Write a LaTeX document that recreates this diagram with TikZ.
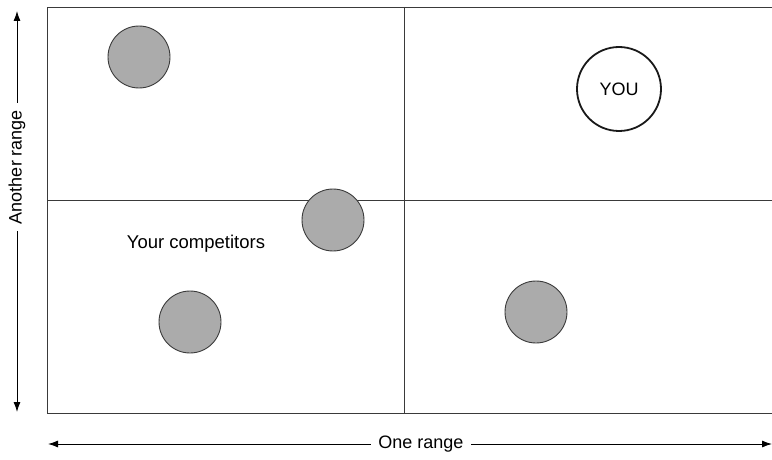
\documentclass[tikz,border=0pt]{standalone}
\usepackage{fontspec}
\setmainfont{Liberation Sans}
\usetikzlibrary{arrows.meta}
\definecolor{dotgray}{HTML}{ABABAB}
\definecolor{edgegray}{HTML}{3A3A3A}
\begin{document}
\begin{tikzpicture}[x=1pt,y=-1pt,
  gridline/.style={draw=edgegray,line width=0.9pt},
  rival/.style={circle,draw=edgegray,line width=0.9pt,fill=dotgray,minimum size=62pt,inner sep=0pt},
  me/.style={circle,draw=black!90,line width=1.8pt,fill=white,minimum size=84pt,inner sep=0pt,font=\fontsize{18}{20}\selectfont},
  axis/.style={line width=0.9pt,{Latex[length=10pt,width=7pt]}-{Latex[length=10pt,width=7pt]}},
  axislabel/.style={fill=white,inner xsep=7pt,inner ysep=0pt,minimum height=14pt,font=\fontsize{18}{20}\selectfont},
  plain/.style={font=\fontsize{18.5}{20}\selectfont,inner sep=0pt}]
\useasboundingbox (0,0) rectangle (772,460);
% frame and quadrants
\coordinate (tl) at (47,7);
\coordinate (br) at (774,413);
\draw[gridline] (tl) rectangle (br);
\coordinate (ml) at (47,200);
\coordinate (mr) at (774,200);
\coordinate (mt) at (404,7);
\coordinate (mb) at (404,413);
\draw[gridline] (ml) -- (mr);
\draw[gridline] (mt) -- (mb);
% circles
\node[rival] (c1) at (139,57) {};
\node[rival] (c2) at (333,220) {};
\node[rival] (c3) at (190,322) {};
\node[rival] (c4) at (536,312) {};
\node[me] (you) at (619,89) {YOU};
\node[plain] (lbl) at (196,244) {Your competitors};
% axes
\coordinate (vt) at (17,11);
\coordinate (vb) at (17,412);
\draw[axis] (vb) -- (vt);
\node[axislabel,rotate=90] (vl) at (17,167) {Another range};
\coordinate (hl) at (48,444);
\coordinate (hr) at (772,444);
\draw[axis] (hl) -- (hr);
\node[axislabel] (hlab) at (421,444) {One range};
\end{tikzpicture}
\end{document}
